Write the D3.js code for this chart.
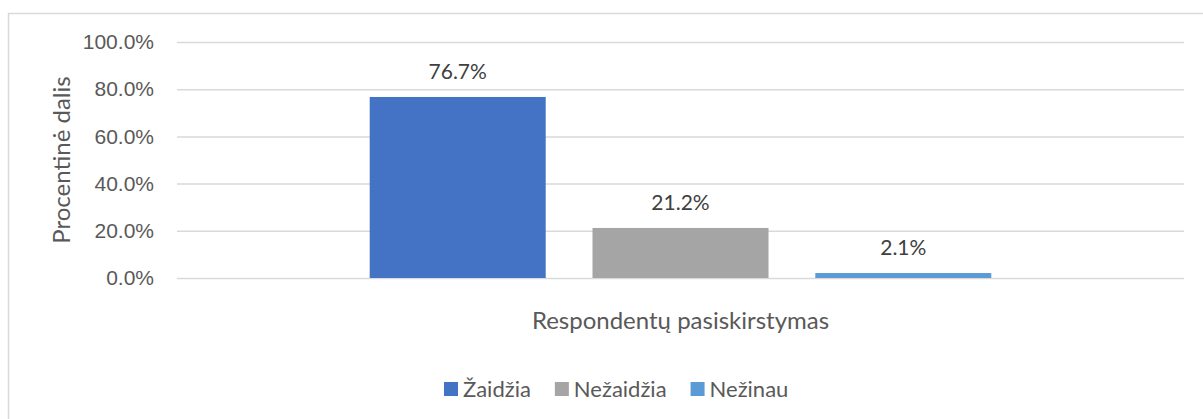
<!DOCTYPE html>
<html>
<head>
    <meta charset="utf-8">
    <title>Respondentų pasiskirstymas</title>
    <script src="https://cdn.jsdelivr.net/npm/d3@7"></script>
    <style type="text/css">
        body {
            margin: 0;
            background: #fff;
            font-family: Lato, "Open Sans", sans-serif;
        }
        .grid line {
            stroke: #d9d9d9;
            stroke-width: 1.5px;
        }
        .grid text {
            fill: #595959;
            font-size: 21px;
        }
    </style>
</head>
<body>
<script type="text/javascript">
    // data
    var category = ["Respondentų pasiskirstymas"];
    var series = ["Žaidžia", "Nežaidžia", "Nežinau"];
    var values = [0.767, 0.212, 0.021];
    var colors = ["#4472C4", "#A5A5A5", "#5B9BD5"];
    var yTicks = [0, 0.2, 0.4, 0.6, 0.8, 1.0];

    var W = 1203, H = 419;
    var margin = { top: 42, right: 19, bottom: 141, left: 177 },
        width = W - margin.left - margin.right,
        height = H - margin.top - margin.bottom;

    var svg = d3.select("body").append("svg")
        .attr("width", W)
        .attr("height", H);

    // chart frame (cut off at right and bottom like the reference)
    svg.append("rect")
        .attr("x", 8.5).attr("y", 13.5)
        .attr("width", 1214).attr("height", 430)
        .attr("fill", "none")
        .attr("stroke", "#d9d9d9")
        .attr("stroke-width", 1.5);

    var g = svg.append("g")
        .attr("transform", "translate(" + margin.left + "," + margin.top + ")");

    var y = d3.scaleLinear().domain([0, 1]).range([height, 0]);

    var x0 = d3.scaleBand()
        .domain(category)
        .range([0, width])
        .paddingOuter(0.31);

    var x1 = d3.scaleBand()
        .domain(series)
        .range([0, x0.bandwidth()])
        .paddingInner(0.21)
        .paddingOuter(0);

    var yAxis = d3.axisLeft(y)
        .tickValues(yTicks)
        .tickFormat(d3.format(".1%"))
        .tickSize(-width)
        .tickPadding(23);

    g.append("g")
        .attr("class", "grid")
        .call(yAxis)
        .call(function (s) { s.select(".domain").remove(); });

    var bars = g.append("g")
        .attr("transform", "translate(" + x0(category[0]) + ",0)");

    bars.selectAll("rect")
        .data(series)
        .enter().append("rect")
        .attr("x", function (d) { return x1(d); })
        .attr("y", function (d, i) { return y(values[i]); })
        .attr("width", x1.bandwidth())
        .attr("height", function (d, i) { return height - y(values[i]); })
        .attr("fill", function (d, i) { return colors[i]; });

    bars.selectAll("text.val")
        .data(series)
        .enter().append("text")
        .attr("class", "val")
        .attr("x", function (d) { return x1(d) + x1.bandwidth() / 2; })
        .attr("y", function (d, i) { return y(values[i]) - 18; })
        .attr("text-anchor", "middle")
        .attr("fill", "#404040")
        .style("font-size", "21px")
        .text(function (d, i) { return d3.format(".1%")(values[i]); });

    // axis titles
    g.append("text")
        .attr("x", width / 2)
        .attr("y", height + 51)
        .attr("text-anchor", "middle")
        .attr("fill", "#595959")
        .style("font-size", "24px")
        .text(category[0]);

    svg.append("text")
        .attr("transform", "translate(70," + (margin.top + height / 2) + ") rotate(-90)")
        .attr("text-anchor", "middle")
        .attr("fill", "#595959")
        .style("font-size", "24px")
        .text("Procentinė dalis");

    // legend
    var legend = svg.append("g").attr("transform", "translate(444,389)");
    var lx = 0;
    series.forEach(function (s, i) {
        var item = legend.append("g").attr("transform", "translate(" + lx + ",0)");
        item.append("rect")
            .attr("x", 0).attr("y", -7)
            .attr("width", 14).attr("height", 14)
            .attr("fill", colors[i]);
        var t = item.append("text")
            .attr("x", 19)
            .attr("dy", "0.35em")
            .attr("fill", "#595959")
            .style("font-size", "22px")
            .text(s);
        lx += 19 + t.node().getComputedTextLength() + 24;
    });
</script>
</body>
</html>
